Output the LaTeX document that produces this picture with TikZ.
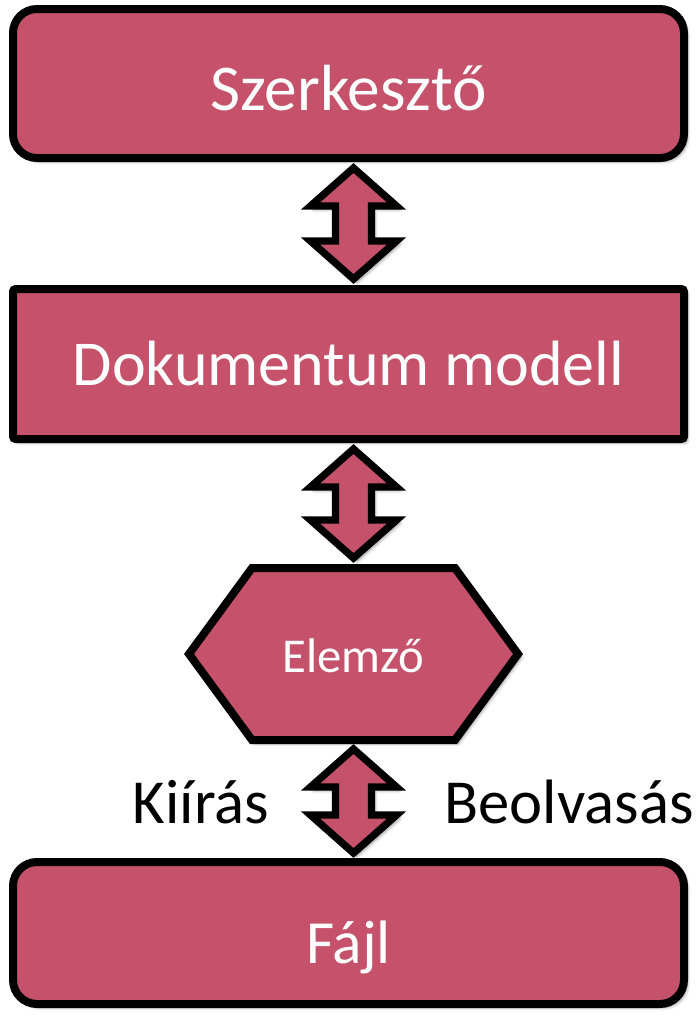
\documentclass[tikz,border=0pt]{standalone}
\usepackage{fontspec}
\setmainfont{Carlito}
\usetikzlibrary{calc,shadows.blur}
\definecolor{boxfill}{RGB}{197,82,106}
\tikzset{
  soft shadow/.style={blur shadow={shadow xshift=2.5pt, shadow yshift=-2.5pt,
      shadow blur radius=2.5pt, shadow opacity=45}},
  block/.style={draw=black, fill=boxfill, line width=6pt, line join=miter,
      inner sep=0pt, outer sep=0pt, text=white, soft shadow,
      font=\fontsize{48}{52}\selectfont},
  roundblock/.style={block, rounded corners=18pt},
  squareblock/.style={block, rounded corners=2pt},
  hexfill/.style={draw=black, fill=boxfill, line width=6pt, line join=miter, soft shadow},
  twoarrow/.style={draw=black, fill=boxfill, line width=5.5pt, line join=miter, soft shadow},
  side label/.style={text=black, inner sep=0pt, anchor=base,
      font=\fontsize{47}{50}\selectfont}
}
% double-headed block arrow between two points (top tip, bottom tip)
\newcommand\twoway[2]{%
  \draw[twoarrow] (#1) -- ($(#1)+(43,38)$) -- ($(#1)+(18,38)$) -- ($(#2)+(18,-38)$)
    -- ($(#2)+(43,-38)$) -- (#2) -- ($(#2)+(-43,-38)$) -- ($(#2)+(-18,-38)$)
    -- ($(#1)+(-18,38)$) -- ($(#1)+(-43,38)$) -- cycle;}
\begin{document}
\begin{tikzpicture}[x=0.75pt, y=-0.75pt]
  \useasboundingbox (0,0) rectangle (697,1015);

  % blocks
  \node[roundblock, minimum width=671*0.75pt, minimum height=149*0.75pt,
        text height=54*0.75pt, text depth=0pt, font=\fontsize{49}{52}\selectfont]
        (szerk) at (348.5,83.5) {Szerkesztő};
  \node[squareblock, minimum width=671*0.75pt, minimum height=150*0.75pt,
        text height=43*0.75pt, text depth=0pt] (modell) at (348.5,364) {Dokumentum modell};
  \node[inner sep=0pt, outer sep=0pt, minimum width=329*0.75pt,
        minimum height=172*0.75pt] (elemzo) at (353.5,654) {};
  \draw[hexfill] (elemzo.west) -- ($(elemzo.north west)+(63,0)$)
    -- ($(elemzo.north east)+(-63,0)$) -- (elemzo.east)
    -- ($(elemzo.south east)+(-63,0)$) -- ($(elemzo.south west)+(63,0)$) -- cycle;
  \node[text=white, inner sep=0pt, anchor=base, font=\fontsize{36.5}{40}\selectfont]
    (elemzotext) at (353.5,672) {Elemző};
  \node[roundblock, minimum width=671*0.75pt, minimum height=142*0.75pt,
        text height=60*0.75pt, text depth=0pt, font=\fontsize{46}{50}\selectfont]
        (fajl) at (348.5,933) {Fájl};

  % connector tips
  \coordinate (a1t) at ($(szerk.south)+(5,10)$);
  \coordinate (a1b) at ($(modell.north)+(5,-10)$);
  \coordinate (a2t) at ($(modell.south)+(5,10)$);
  \coordinate (a2b) at ($(elemzo.north)+(0,-10)$);
  \coordinate (a3t) at ($(elemzo.south)+(0,9)$);
  \coordinate (a3b) at ($(fajl.north)+(5,-9)$);

  % connectors
  \twoway{a1t}{a1b}
  \twoway{a2t}{a2b}
  \twoway{a3t}{a3b}

  % labels beside the lower connector
  \node[side label] (kiiras) at (201,823) {Kiírás};
  \node[side label] (beolvasas) at (569,823) {Beolvasás};
\end{tikzpicture}
\end{document}
